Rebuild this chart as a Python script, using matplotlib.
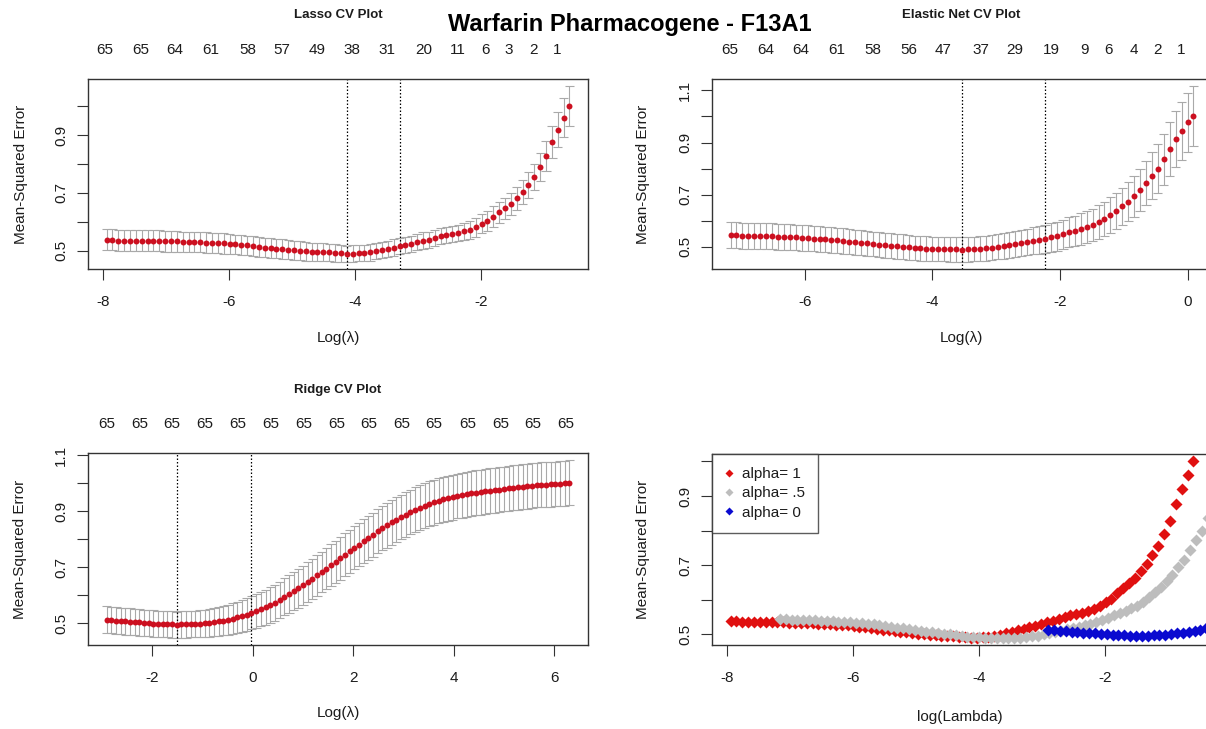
import numpy as np
import matplotlib
matplotlib.use("Agg")
import matplotlib.pyplot as plt
from matplotlib.lines import Line2D
from matplotlib.transforms import blended_transform_factory

plt.rcParams['font.family'] = ['Liberation Sans', 'DejaVu Sans']

# ---------------------------------------------------------------- data
# log(lambda) end points of each cross-validated glmnet path
lasso_loglam = (-7.947, -0.600)
enet_loglam = (-7.164, 0.090)
ridge_loglam = (-2.907, 6.300)

lasso_cvm = [
    0.538, 0.538, 0.535, 0.535, 0.535, 0.535, 0.535, 0.534, 0.534, 0.534,
    0.533, 0.532, 0.532, 0.531, 0.531, 0.530, 0.529, 0.528, 0.527, 0.526,
    0.525, 0.523, 0.522, 0.520, 0.518, 0.516, 0.513, 0.511, 0.509, 0.507,
    0.505, 0.503, 0.501, 0.500, 0.498, 0.497, 0.496, 0.495, 0.494, 0.492,
    0.491, 0.489, 0.490, 0.491, 0.492, 0.494, 0.498, 0.502, 0.507, 0.511,
    0.515, 0.520, 0.523, 0.529, 0.535, 0.538, 0.544, 0.550, 0.554, 0.558,
    0.561, 0.567, 0.572, 0.581, 0.593, 0.602, 0.618, 0.633, 0.647, 0.662,
    0.682, 0.703, 0.728, 0.755, 0.789, 0.827, 0.876, 0.919, 0.961, 1.001]
lasso_cvsd = [
    0.036, 0.036, 0.036, 0.036, 0.036, 0.036, 0.036, 0.036, 0.036, 0.036,
    0.036, 0.035, 0.035, 0.035, 0.035, 0.035, 0.035, 0.035, 0.035, 0.035,
    0.035, 0.034, 0.034, 0.034, 0.034, 0.034, 0.034, 0.034, 0.034, 0.034,
    0.034, 0.033, 0.033, 0.032, 0.032, 0.031, 0.031, 0.031, 0.030, 0.030,
    0.029, 0.028, 0.028, 0.028, 0.028, 0.028, 0.028, 0.028, 0.028, 0.028,
    0.028, 0.028, 0.028, 0.028, 0.028, 0.028, 0.028, 0.028, 0.028, 0.028,
    0.029, 0.030, 0.031, 0.032, 0.033, 0.034, 0.035, 0.036, 0.037, 0.039,
    0.040, 0.042, 0.044, 0.046, 0.049, 0.052, 0.056, 0.061, 0.066, 0.069]
lasso_nz_at = [-7.97, -7.41, -6.86, -6.30, -5.71, -5.16, -4.60, -4.06,
               -3.49, -2.92, -2.37, -1.94, -1.56, -1.17, -0.79]
lasso_nz = [65, 65, 64, 61, 58, 57, 49, 38, 31, 20, 11, 6, 3, 2, 1]

enet_cvm = [
    0.544, 0.543, 0.542, 0.542, 0.541, 0.540, 0.540, 0.539, 0.538, 0.537,
    0.536, 0.535, 0.534, 0.533, 0.531, 0.530, 0.528, 0.526, 0.524, 0.522,
    0.519, 0.517, 0.515, 0.512, 0.510, 0.507, 0.505, 0.503, 0.501, 0.499,
    0.497, 0.495, 0.493, 0.492, 0.491, 0.490, 0.490, 0.489, 0.489, 0.488,
    0.489, 0.490, 0.492, 0.494, 0.496, 0.499, 0.502, 0.506, 0.510, 0.514,
    0.518, 0.522, 0.526, 0.530, 0.536, 0.540, 0.547, 0.555, 0.560, 0.568,
    0.575, 0.582, 0.594, 0.607, 0.621, 0.636, 0.655, 0.672, 0.693, 0.716,
    0.744, 0.773, 0.800, 0.836, 0.874, 0.912, 0.945, 0.978, 1.002]
enet_cvsd = [
    0.050, 0.050, 0.050, 0.050, 0.050, 0.050, 0.050, 0.050, 0.050, 0.050,
    0.049, 0.049, 0.049, 0.049, 0.049, 0.049, 0.049, 0.049, 0.049, 0.049,
    0.048, 0.048, 0.048, 0.048, 0.048, 0.048, 0.048, 0.048, 0.048, 0.048,
    0.047, 0.047, 0.047, 0.047, 0.047, 0.047, 0.047, 0.047, 0.047, 0.047,
    0.047, 0.047, 0.047, 0.048, 0.048, 0.048, 0.049, 0.049, 0.050, 0.050,
    0.051, 0.052, 0.053, 0.054, 0.055, 0.056, 0.057, 0.058, 0.059, 0.060,
    0.061, 0.062, 0.064, 0.066, 0.068, 0.070, 0.072, 0.075, 0.078, 0.081,
    0.085, 0.089, 0.093, 0.098, 0.103, 0.108, 0.112, 0.114, 0.115]
enet_nz_at = [-7.18, -6.61, -6.06, -5.50, -4.93, -4.37, -3.84, -3.24,
              -2.71, -2.13, -1.61, -1.24, -0.85, -0.47, -0.11]
enet_nz = [65, 64, 64, 61, 58, 56, 47, 37, 29, 19, 9, 6, 4, 2, 1]

ridge_cvm = [
    0.513, 0.511, 0.510, 0.508, 0.507, 0.506, 0.504, 0.503, 0.502, 0.500,
    0.499, 0.498, 0.497, 0.497, 0.496, 0.495, 0.496, 0.496, 0.497, 0.497,
    0.498, 0.500, 0.502, 0.504, 0.507, 0.510, 0.513, 0.517, 0.521, 0.526,
    0.531, 0.537, 0.543, 0.550, 0.557, 0.565, 0.574, 0.584, 0.594, 0.604,
    0.614, 0.625, 0.636, 0.647, 0.659, 0.671, 0.683, 0.695, 0.708, 0.720,
    0.732, 0.745, 0.757, 0.769, 0.781, 0.793, 0.805, 0.816, 0.828, 0.839,
    0.850, 0.860, 0.870, 0.879, 0.888, 0.897, 0.905, 0.912, 0.919, 0.926,
    0.932, 0.937, 0.942, 0.946, 0.950, 0.954, 0.957, 0.960, 0.963, 0.966,
    0.968, 0.971, 0.973, 0.975, 0.977, 0.979, 0.981, 0.983, 0.985, 0.987,
    0.989, 0.991, 0.993, 0.994, 0.995, 0.996, 0.997, 0.998, 0.999, 1.002]
ridge_cvsd = [
    0.047, 0.047, 0.047, 0.047, 0.047, 0.047, 0.047, 0.047, 0.047, 0.047,
    0.047, 0.047, 0.047, 0.047, 0.047, 0.047, 0.047, 0.047, 0.047, 0.047,
    0.048, 0.049, 0.050, 0.051, 0.052, 0.053, 0.054, 0.055, 0.056, 0.057,
    0.058, 0.059, 0.060, 0.061, 0.062, 0.063, 0.064, 0.065, 0.066, 0.067,
    0.068, 0.069, 0.070, 0.071, 0.072, 0.073, 0.073, 0.074, 0.075, 0.075,
    0.076, 0.076, 0.077, 0.077, 0.078, 0.078, 0.078, 0.079, 0.079, 0.079,
    0.080, 0.080, 0.080, 0.080, 0.080, 0.080, 0.080, 0.080, 0.080, 0.080,
    0.080, 0.080, 0.080, 0.080, 0.080, 0.080, 0.080, 0.080, 0.080, 0.080,
    0.080, 0.080, 0.080, 0.080, 0.080, 0.080, 0.080, 0.080, 0.080, 0.080,
    0.080, 0.080, 0.080, 0.080, 0.080, 0.080, 0.080, 0.080, 0.080, 0.080]
ridge_nz_at = [-2.90, -2.25, -1.61, -0.95, -0.30, 0.36, 1.01, 1.67,
               2.31, 2.96, 3.60, 4.27, 4.93, 5.57, 6.22]
ridge_nz = [65] * 15

lasso_xticks = [-8, -6, -4, -2]
enet_xticks = [-6, -4, -2, 0]
ridge_xticks = [-2, 0, 2, 4, 6]
mse_ticks_short = [0.5, 0.6, 0.7, 0.8, 0.9, 1.0]
mse_ticks_long = [0.5, 0.6, 0.7, 0.8, 0.9, 1.0, 1.1]

alpha_labels = ['alpha= 1', 'alpha= .5', 'alpha= 0']

# ---------------------------------------------------------------- style
W, H = 1206, 729
RED = '#cc1020'
GREY = '#a9a9a9'
TXT = '#1c1c1c'
EDGE = '#333333'
FS = 11

fig = plt.figure(figsize=(W / 100, H / 100), dpi=100)
fig.patch.set_facecolor('white')


def px_axes(x0, y0, x1, y1):
    return fig.add_axes([x0 / W, 1 - y1 / H, (x1 - x0) / W, (y1 - y0) / H])


def r_range(lo, hi):
    pad = 0.04 * (hi - lo)
    return lo - pad, hi + pad


def style_axes(ax, xticks, yticks):
    for s in ax.spines.values():
        s.set_color(EDGE)
        s.set_linewidth(1.0)
    ax.set_xticks(xticks)
    ax.set_xticklabels([f'{t:g}' for t in xticks])
    ax.set_yticks(yticks)
    ax.set_yticklabels([f'{t:.1f}' if i % 2 == 0 else '' for i, t in enumerate(yticks)])
    ax.tick_params(direction='out', length=7.9, width=0.8, color=EDGE,
                   labelsize=FS, labelcolor=TXT)
    ax.tick_params(axis='x', pad=10.5)
    ax.tick_params(axis='y', pad=6.5, labelrotation=90)
    for lbl in ax.get_yticklabels():
        lbl.set_va('center')


def cv_panel(ax, loglam, cvm, cvsd, nz_at, nz, xticks, yticks):
    cvm = np.asarray(cvm)
    cvsd = np.asarray(cvsd)
    x = np.linspace(loglam[0], loglam[1], len(cvm))
    up, lo = cvm + cvsd, cvm - cvsd
    barw = 0.01 * (x.max() - x.min())
    ax.vlines(x, lo, up, color=GREY, lw=0.8, zorder=1)
    ax.hlines(up, x - barw, x + barw, color=GREY, lw=0.8, zorder=1)
    ax.hlines(lo, x - barw, x + barw, color=GREY, lw=0.8, zorder=1)
    ax.plot(x, cvm, 'o', color=RED, ms=4.3, mec='none', zorder=3)

    # lambda.min and lambda.1se
    imin = int(np.argmin(cvm))
    i1se = int(np.max(np.where(cvm <= cvm[imin] + cvsd[imin])[0]))
    for i in (imin, i1se):
        ax.axvline(x[i], color='black', lw=0.9, ls=(0, (1.2, 1.6)), zorder=2)

    ax.set_xlim(*r_range(x.min(), x.max()))
    ax.set_ylim(*r_range(lo.min(), up.max()))
    style_axes(ax, xticks, yticks)

    tr = blended_transform_factory(ax.transData, ax.transAxes)
    bbox = ax.get_position()
    h_px = bbox.height * H
    for pos, n in zip(nz_at, nz):
        ax.text(pos, 1 + 29 / h_px, str(n), transform=tr, ha='center',
                va='center', fontsize=FS, color=TXT, clip_on=False)
    return x


def label_panel(cx, x_label_y, y_label_x, cy, title, title_y, xlabel):
    fig.text(cx / W, 1 - title_y / H, title, ha='center', va='center',
             fontsize=9.5, fontweight='bold', color=TXT)
    fig.text(cx / W, 1 - x_label_y / H, xlabel, ha='center', va='center',
             fontsize=FS, color=TXT)
    fig.text(y_label_x / W, 1 - cy / H, 'Mean-Squared Error', ha='center',
             va='center', rotation=90, fontsize=FS, color=TXT)


# ---------------------------------------------------------------- panels
ax1 = px_axes(88, 79, 588, 269)
lasso_x = cv_panel(ax1, lasso_loglam, lasso_cvm, lasso_cvsd, lasso_nz_at,
                   lasso_nz, lasso_xticks, mse_ticks_short)
label_panel(338, 338, 21, 174, 'Lasso CV Plot', 15, 'Log(λ)')

ax2 = px_axes(712, 79, 1212, 269)
enet_x = cv_panel(ax2, enet_loglam, enet_cvm, enet_cvsd, enet_nz_at,
                  enet_nz, enet_xticks, mse_ticks_long)
label_panel(961, 338, 643, 174, 'Elastic Net CV Plot', 15, 'Log(λ)')

ax3 = px_axes(88, 453, 588, 645)
ridge_x = cv_panel(ax3, ridge_loglam, ridge_cvm, ridge_cvsd, ridge_nz_at,
                   ridge_nz, ridge_xticks, mse_ticks_long)
label_panel(338, 713, 20, 549, 'Ridge CV Plot', 390, 'Log(λ)')

# comparison of the three penalties
ax4 = px_axes(712, 454, 1212, 645)
series = [(lasso_x, lasso_cvm, '#e01010'),
          (enet_x, enet_cvm, '#bdbdbd'),
          (ridge_x, ridge_cvm, '#0a0ad0')]
for xs, ys, col in series:
    ax4.plot(xs, ys, 'D', color=col, ms=5.8, mec='none')
ax4.set_xlim(*r_range(min(lasso_x), max(lasso_x)))
ax4.set_ylim(*r_range(min(lasso_cvm), max(lasso_cvm)))
style_axes(ax4, lasso_xticks, mse_ticks_short)
fig.text(960 / W, 1 - 717 / H, 'log(Lambda)', ha='center', va='center',
         fontsize=FS, color=TXT)
fig.text(643 / W, 1 - 549 / H, 'Mean-Squared Error', ha='center',
         va='center', rotation=90, fontsize=FS, color=TXT)

handles = [Line2D([], [], ls='none', marker='D', ms=4.0, mec='none', color=c)
           for _, _, c in series]
leg = ax4.legend(handles, alpha_labels, loc='upper left', fontsize=FS,
                 frameon=True, fancybox=False, borderaxespad=0,
                 handlelength=0.5, handletextpad=0.6, borderpad=0.85,
                 labelspacing=0.35)
leg.get_frame().set_edgecolor(EDGE)
leg.get_frame().set_linewidth(1.0)
for t in leg.get_texts():
    t.set_color(TXT)

fig.text(630 / W, 1 - 24 / H, 'Warfarin Pharmacogene - F13A1', ha='center',
         va='center', fontsize=17, fontweight='bold', color='black')

fig.savefig('out.png', dpi=100, facecolor='white')
